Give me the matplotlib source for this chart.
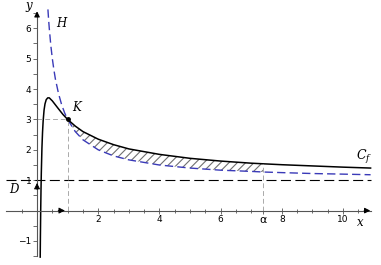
import numpy as np
import matplotlib
matplotlib.use("Agg")
from matplotlib import pyplot as plt

plt.rcParams["hatch.linewidth"] = 0.8
plt.rcParams["hatch.color"] = "#707070"

# curve Cf
x_cf = [0.104, 0.11, 0.12, 0.13, 0.14, 0.16, 0.18, 0.2, 0.23, 0.26, 0.3, 0.35, 0.4,
        0.5, 0.6, 0.7, 0.85, 1, 1.25, 1.5, 2, 2.5, 3, 4, 5, 6, 7, 7.39, 8, 9, 10, 10.9]
y_cf = [-1.53, -0.88, 0.0, 0.69, 1.24, 2.05, 2.58, 2.95, 3.31, 3.51, 3.65, 3.71, 3.71,
        3.61, 3.48, 3.35, 3.16, 3.0, 2.78, 2.60, 2.35, 2.17, 2.03, 1.85, 1.72, 1.63, 1.56, 1.54, 1.51, 1.47, 1.43, 1.40]

# hyperbola H
x_h = [0.356, 0.38, 0.4, 0.45, 0.5, 0.55, 0.6, 0.7, 0.8, 0.9, 1, 1.25, 1.5, 2, 2.5, 3,
       4, 5, 6, 7, 7.39, 8, 9, 10, 10.9]
y_h = [6.62, 6.26, 6.0, 5.44, 5.0, 4.64, 4.33, 3.86, 3.5, 3.22, 3.0, 2.6, 2.33, 2.0, 1.8, 1.67,
       1.5, 1.4, 1.33, 1.29, 1.27, 1.25, 1.22, 1.2, 1.18]

alpha = 7.39
K = (1, 3)
asym = 1

fig = plt.figure(figsize=(3.81, 2.65), dpi=100)
ax = fig.add_axes([0, 0, 1, 1])
ax.set_xlim(-1.21, 11.24)
ax.set_ylim(-1.79, 6.93)
ax.patch.set_visible(False)

# axes through origin
for s in ["top", "right"]:
    ax.spines[s].set_visible(False)
ax.spines["bottom"].set_position("zero")
ax.spines["left"].set_position("zero")
ax.spines["bottom"].set_bounds(-1, 10.9)
ax.spines["left"].set_bounds(-1.5, 6.5)
for s in ["bottom", "left"]:
    ax.spines[s].set_color("#555555")
    ax.spines[s].set_linewidth(0.8)
ax.annotate("", xy=(10.98, 0), xytext=(10.6, 0),
            arrowprops=dict(arrowstyle="-|>", color="black", lw=0.8, mutation_scale=8))
ax.annotate("", xy=(0, 6.65), xytext=(0, 6.3),
            arrowprops=dict(arrowstyle="-|>", color="black", lw=0.8, mutation_scale=8))

xt = [2, 4, 6, alpha, 8, 10]
xtl = ["2", "4", "6", "α", "8", "10"]
ax.set_xticks(xt)
ax.set_xticklabels(xtl)
ax.set_xticks([v for v in np.arange(-0.5, 11, 0.5) if v not in (0, 7.5) and v not in xt], minor=True)
yt = [-1, 1, 2, 3, 4, 5, 6]
ax.set_yticks(yt)
ax.set_yticks([v for v in np.arange(-1.5, 6.6, 0.5) if v != 0 and v not in yt], minor=True)
ax.tick_params(axis="x", which="both", direction="inout", length=4, width=0.6, color="#555555",
               labelsize=6.5, pad=1)
ax.tick_params(axis="x", which="minor", length=3)
ax.tick_params(axis="y", which="both", direction="out", length=3, width=0.6, color="#555555",
               labelsize=6.5, pad=1)
ax.get_xticklabels()[3].set_fontsize(8)

# hatched area between Cf and H from 1 to alpha
xs = [x for x in x_cf if 1 <= x <= alpha]
top = [y_cf[x_cf.index(x)] for x in xs]
bot = [y_h[x_h.index(x)] for x in xs]
ax.fill_between(xs, bot, top, facecolor="none", edgecolor="#707070", hatch="////", linewidth=0)

# asymptote D
ax.plot([-1, 10.9], [asym, asym], color="black", lw=0.8, dashes=(9, 4))
# H
ax.plot(x_h, y_h, color="#3a3ab8", lw=1.0, dashes=(6, 3))
# Cf
ax.plot(x_cf, y_cf, color="black", lw=1.1)

# guide lines
ax.plot([0, K[0]], [K[1], K[1]], color="#aaaaaa", lw=0.7, dashes=(5, 3))
ax.plot([K[0], K[0]], [0, K[1]], color="#aaaaaa", lw=0.7, dashes=(5, 3))
ax.plot([alpha, alpha], [0, y_cf[x_cf.index(alpha)]], color="#aaaaaa", lw=0.7, dashes=(5, 3))
ax.plot(K[0], K[1], "o", color="black", ms=2.5)

# unit vectors (heads only over the axes)
ax.annotate("", xy=(1, 0), xytext=(0.6, 0),
            arrowprops=dict(arrowstyle="-|>", color="black", lw=0.6, mutation_scale=9))
ax.annotate("", xy=(0, 1), xytext=(0, 0.6),
            arrowprops=dict(arrowstyle="-|>", color="black", lw=0.6, mutation_scale=9))

tf = dict(family="DejaVu Serif", style="italic", fontsize=8.5)
ax.text(-0.28, 6.75, "y", ha="center", va="center", **tf)
ax.text(10.55, -0.38, "x", ha="center", va="center", **tf)
ax.text(0.8, 6.15, "H", ha="center", va="center", **tf)
ax.text(1.3, 3.4, "K", ha="center", va="center", **tf)
ax.text(-0.75, 0.68, "D", ha="center", va="center", **tf)
ax.text(10.7, 1.75, r"$\mathit{C_f}$", ha="center", va="center", fontsize=9,
        math_fontfamily="dejavuserif")

fig.savefig("out.png", dpi=100)
